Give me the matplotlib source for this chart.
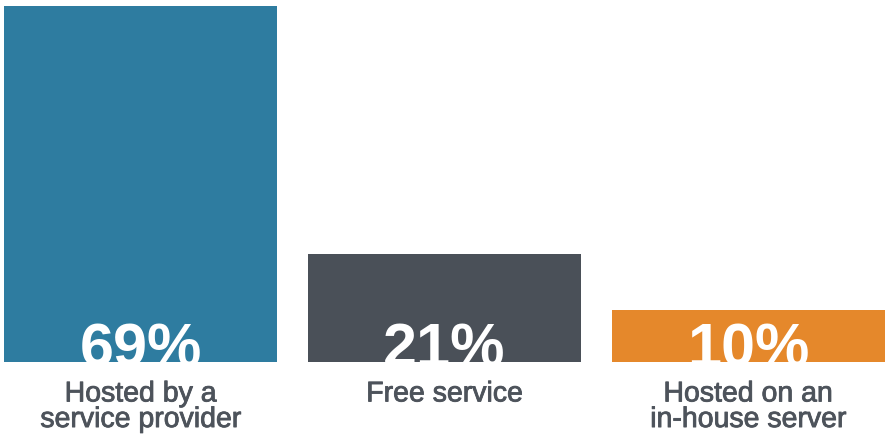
import matplotlib
matplotlib.use("Agg")
import matplotlib.pyplot as plt
import matplotlib.patheffects as pe

categories = ["Hosted by a\nservice provider", "Free service", "Hosted on an\nin-house server"]
shares = [69, 21, 10]
colors = ["#2E7CA0", "#4A5058", "#E5882B"]

plt.rcParams["font.family"] = ["Liberation Sans", "DejaVu Sans"]

fig = plt.figure(figsize=(8.85, 4.34), dpi=100)
ax = fig.add_axes([4 / 885, 72 / 434, 881 / 885, 356 / 434])

pos = range(len(shares))
bars = ax.bar(pos, shares, width=0.9, color=colors)
ax.set_xlim(-0.45, 2.45)
ax.set_ylim(0, max(shares))

# big white percentage sitting on the bar bottom, cut off by the bar
for b, v in zip(bars, shares):
    t = ax.annotate(f"{v}%", (b.get_x() + b.get_width() / 2, 0),
                    xytext=(0, -3), textcoords="offset points",
                    ha="center", va="baseline", color="white",
                    fontsize=44, fontweight="bold")
    t.set_clip_path(b)

ax.set_xticks(list(pos))
ax.set_xticklabels(categories, fontsize=20.5, color="#4D535B", linespacing=0.98)
for lbl in ax.get_xticklabels():
    # a touch heavier than regular weight
    lbl.set_path_effects([pe.withStroke(linewidth=0.6, foreground="#4D535B")])
ax.tick_params(axis="x", length=0, pad=14)
ax.set_yticks([])
for s in ax.spines.values():
    s.set_visible(False)

fig.savefig("out.png", dpi=100)
